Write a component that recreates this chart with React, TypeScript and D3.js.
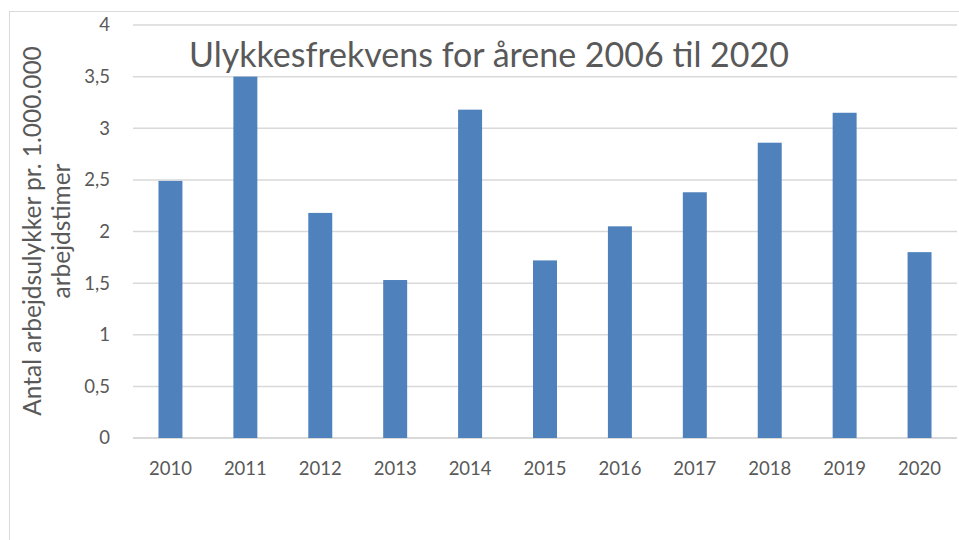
import React from "react";
import * as d3 from "d3";

const years = ["2010","2011","2012","2013","2014","2015","2016","2017","2018","2019","2020"];
const values = [2.49, 3.5, 2.18, 1.53, 3.18, 1.72, 2.05, 2.38, 2.86, 3.15, 1.8];
const yTicks = [0, 0.5, 1, 1.5, 2, 2.5, 3, 3.5, 4];
const title = "Ulykkesfrekvens for årene 2006 til 2020";
const yLabel1 = "Antal arbejdsulykker pr. 1.000.000";
const yLabel2 = "arbejdstimer";

const W = 959, H = 540;
const left = 133, right = 957, top = 25, bottom = 438;
const font = "Lato, 'Open Sans', sans-serif";

export default function App() {
  const x = d3.scaleBand<string>().domain(years).range([left, right]).paddingInner(0.68).paddingOuter(0.34);
  const y = d3.scaleLinear().domain([0, 4]).range([bottom, top]);
  const fmt = (v: number) => String(v).replace(".", ",");
  return (
    <svg width={W} height={H} style={{ position: "absolute", left: 0, top: 0, background: "#fff" }}>
      <rect x={9.5} y={11.5} width={960} height={540} fill="#fff" stroke="#d9d9d9" strokeWidth={1} />
      {yTicks.map((t) => (
        <g key={t}>
          <line x1={left} x2={right} y1={y(t)} y2={y(t)} stroke="#d9d9d9" strokeWidth={t === 0 ? 2 : 1.5} />
          <text x={110} y={y(t)} dy="0.35em" textAnchor="end" fontFamily={font} fontSize={18.5} fill="#595959">{fmt(t)}</text>
        </g>
      ))}
      {years.map((yr, i) => (
        <rect key={yr} x={x(yr)} y={y(values[i])} width={x.bandwidth()} height={bottom - y(values[i])} fill="#4f81bd" />
      ))}
      {years.map((yr) => (
        <text key={yr} x={(x(yr) as number) + x.bandwidth() / 2} y={475} textAnchor="middle" fontFamily={font} fontSize={18.5} fill="#595959">{yr}</text>
      ))}
      <text x={489} y={67} textAnchor="middle" fontFamily={font} fontSize={34} fill="#595959">{title}</text>
      <text transform="translate(41,231) rotate(-90)" textAnchor="middle" fontFamily={font} fontSize={24.5} fill="#595959">{yLabel1}</text>
      <text transform="translate(70,231) rotate(-90)" textAnchor="middle" fontFamily={font} fontSize={24.5} fill="#595959">{yLabel2}</text>
    </svg>
  );
}
